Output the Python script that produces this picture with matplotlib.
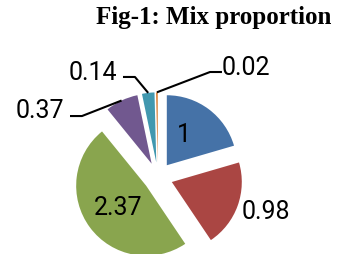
import numpy as np
import matplotlib
matplotlib.use("Agg")
import matplotlib.pyplot as plt

# mix proportion values (clockwise from 12 o'clock)
labels = ["1", "0.98", "2.37", "0.37", "0.14", "0.02"]
values = [1, 0.98, 2.37, 0.37, 0.14, 0.02]
colors = ["#4572A7", "#AA4643", "#89A54E", "#71588F", "#4198AF", "#DB843D"]

fig = plt.figure(figsize=(3.42, 2.55), dpi=100)
ax = fig.add_axes([0, 0, 1, 1])

wedges, _ = ax.pie(values, colors=colors, startangle=90, counterclock=False,
                   explode=[0.21] * len(values), radius=1,
                   wedgeprops=dict(linewidth=0))

ax.set_aspect("auto")
ax.set_xlim(-2.257, 2.629)
ax.set_ylim(-1.1, 2.543)
ax.axis("off")

font = dict(family=["Roboto", "DejaVu Sans"], fontsize=18, color="black")

# label positions (x centre, baseline) and optional leader elbow
label_pos = [(0.369, 0.519), (1.536, -0.59), (-0.567, -0.529),
             (-1.686, 0.853), (-0.924, 1.40), (1.253, 1.471)]
elbows = [None, None, None,
          ((-1.257, 0.871), (-1.086, 0.871)),
          ((-0.50, 1.429), (-0.329, 1.429)),
          ((0.914, 1.50), (0.743, 1.50))]

for w, lab, pos, elb in zip(wedges, labels, label_pos, elbows):
    ax.text(pos[0], pos[1], lab, ha="center", va="baseline", **font)
    if elb is not None:
        mid = np.deg2rad((w.theta1 + w.theta2) / 2)
        cx, cy = w.center
        ex, ey = cx + w.r * np.cos(mid), cy + w.r * np.sin(mid)
        ax.plot([elb[0][0], elb[1][0], ex], [elb[0][1], elb[1][1], ey],
                color="black", lw=1.5, solid_capstyle="butt")

fig.text(214 / 342, 1 - 24 / 255, "Fig-1: Mix proportion", ha="center",
         va="baseline", family="Liberation Serif", fontweight="bold", fontsize=18)

fig.savefig("out.png", dpi=100)
